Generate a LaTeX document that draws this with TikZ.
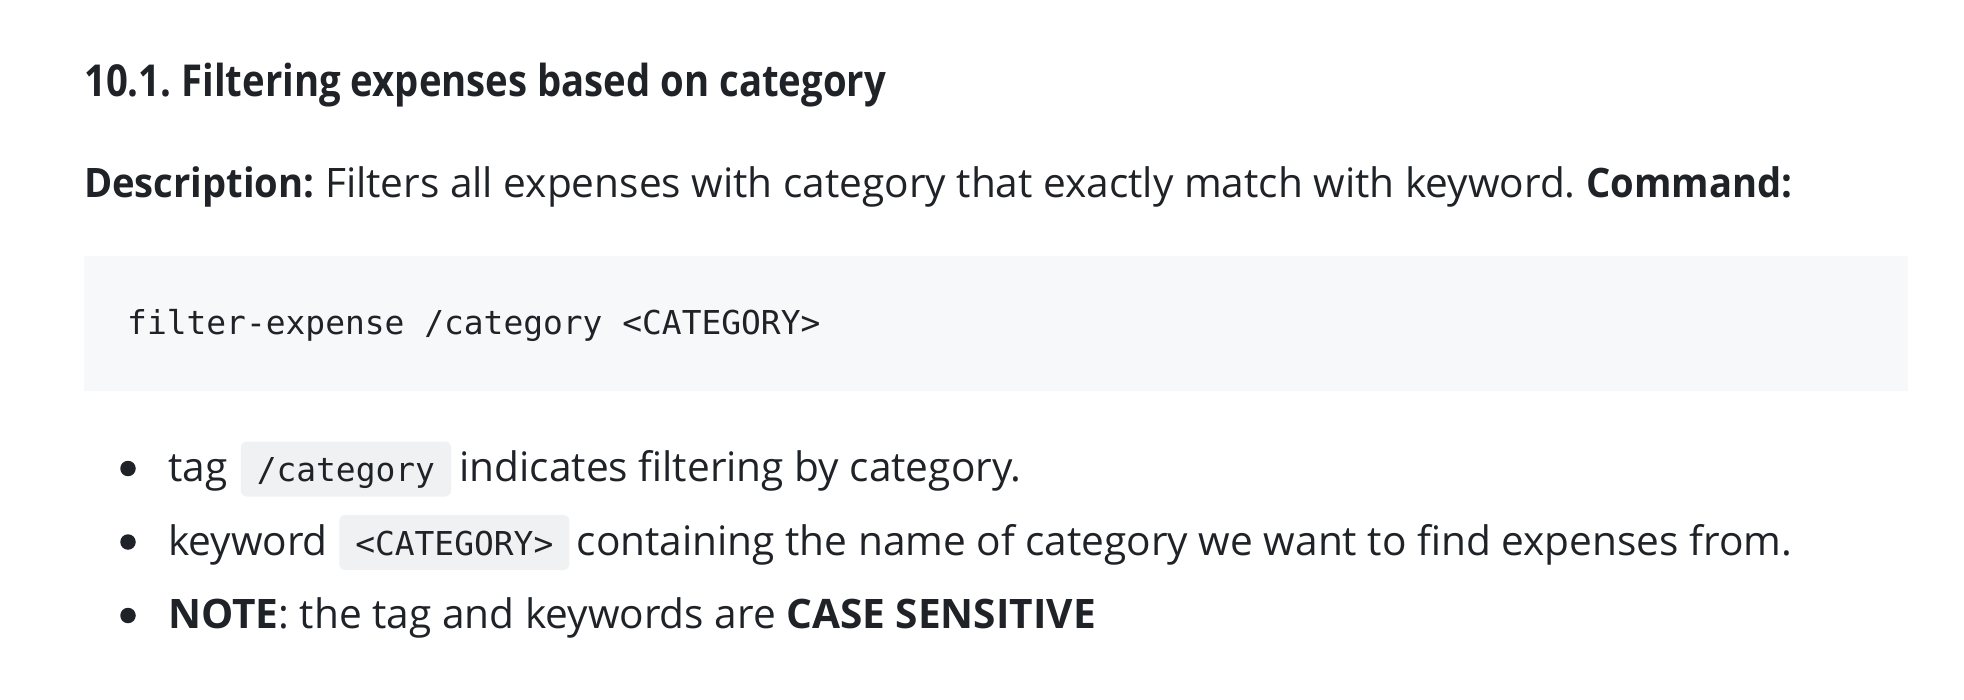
\documentclass[tikz,border=0pt]{standalone}
\usepackage{fontspec}
\setmainfont{Open Sans}
\newfontfamily\headfont[FakeStretch=0.87]{Open Sans}
\newfontfamily\leadfont[FakeStretch=0.94]{Open Sans}
\setmonofont{DejaVu Sans Mono}
\usepackage{xcolor}
\usetikzlibrary{positioning}
\frenchspacing

\definecolor{ink}{HTML}{1F2328}
\definecolor{codebg}{HTML}{F6F8FA}
\definecolor{tickbg}{HTML}{EFF1F3}

\begin{document}
\begin{tikzpicture}[
    x=1pt, y=-1pt,
    every node/.style={inner sep=0pt, text=ink},
    heading/.style={anchor=base west, font=\fontsize{44}{52}\selectfont\headfont\bfseries},
    body/.style={anchor=base west, font=\fontsize{40.6}{48}\selectfont},
    codeline/.style={anchor=base west, font=\fontsize{32.9}{40}\selectfont\ttfamily},
    tick/.style={font=\fontsize{32.9}{40}\selectfont\ttfamily, fill=tickbg, rounded corners=6pt,
        inner xsep=16pt, text height=40pt, text depth=15pt},
    bullet/.style={circle, fill=ink, minimum size=15.5pt}
]

% Page
\fill[white] (0,0) rectangle (1964,700);
\useasboundingbox (0,0) rectangle (1964,700);

% Heading and description
\node (title) [heading] at (84,96.7) {10.1. Filtering expenses based on category};
\node (desc) [body] at (84,197.7) {{\leadfont\bfseries Description:} Filters all expenses with category that exactly match with keyword. {\leadfont\bfseries Command:}};

% Command block
\node (block) [fill=codebg, minimum width=1824pt, minimum height=135pt, anchor=north west] at (84,256) {};
\node (cmd) [codeline] at (127,335) {filter-expense /category <CATEGORY>};

% Bullets
\foreach \y in {468.5, 542, 615.5} {
    \node[bullet] at (128,\y) {};
}

% Item 1
\node (tag) [body] at (168,481.5) {tag};
\node (tagcode) [tick, base right=13pt of tag] {/category};
\node (tagrest) [body, base right=8pt of tagcode] {indicates filtering by category.};

% Item 2
\node (kw) [body] at (168,555) {keyword};
\node (kwcode) [tick, base right=11pt of kw] {<CATEGORY>};
\node (kwrest) [body, base right=7pt of kwcode] {containing the name of category we want to find expenses from.};

% Item 3
\node (note) [body] at (168,628.5) {\textbf{NOTE}: the tag and keywords are \textbf{CASE SENSITIVE}};

\end{tikzpicture}
\end{document}
